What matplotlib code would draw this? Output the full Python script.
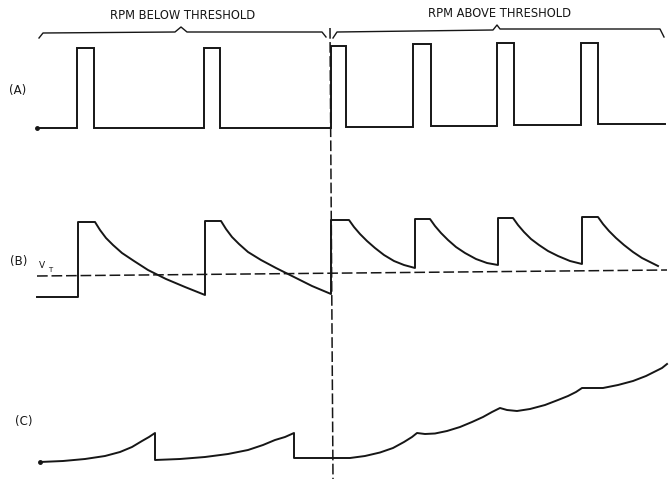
import matplotlib
matplotlib.use("Agg")
import matplotlib.pyplot as plt

# Waveform breakpoints (x = time, y = level, screen units)

# (A) input pulses
a_t = [37, 77, 77, 94, 94, 204, 204, 220, 220, 331, 331, 346, 346,
       413, 413, 431, 431, 497, 497, 514, 514, 581, 581, 598, 598, 665]
a_v = [128, 128, 48, 48, 128, 128, 48, 48, 128, 128, 46, 46, 127,
       127, 44, 44, 126, 126, 43, 43, 125, 125, 43, 43, 124, 124]

# (B) one-shot / RC decay waveform
b_t = [37, 78, 78, 95, 100, 106, 113, 122, 134, 148, 166, 185, 205,
       205, 221, 226, 232, 239, 248, 261, 276, 294, 312, 331,
       331, 349, 354, 360, 367, 375, 384, 394, 404, 415,
       415, 430, 435, 441, 448, 456, 465, 476, 487, 498,
       498, 513, 518, 524, 531, 539, 548, 558, 570, 582,
       582, 598, 603, 609, 616, 624, 633, 642, 650, 658]
b_v = [297, 297, 222, 222, 230, 238, 245, 253, 261, 270, 279, 287, 295,
       221, 221, 229, 237, 244, 252, 260, 268, 277, 286, 294,
       220, 220, 227, 234, 241, 248, 255, 261, 265, 268,
       219, 219, 226, 233, 240, 247, 253, 259, 263, 265,
       218, 218, 225, 232, 239, 245, 251, 256, 261, 264,
       217, 217, 224, 231, 238, 245, 252, 258, 262, 266]

# threshold V_T
vt_t = [37, 667]
vt_v = [276, 270]

# (C) integrator output
c_t = [40, 63, 85, 105, 120, 132, 142, 149, 155,
       155, 180, 205, 228, 248, 263, 275, 285, 294,
       294, 333, 350, 365, 380, 393, 404, 412, 417,
       425, 435, 447, 460, 472, 483, 492, 500,
       507, 517, 530, 545, 558, 568, 576, 582,
       590, 603, 618, 633, 646, 656, 662, 667]
c_v = [462, 461, 459, 456, 452, 447, 441, 437, 433,
       460, 459, 457, 454, 450, 445, 440, 437, 433,
       458, 458, 458, 456, 452.5, 448, 442, 437, 433,
       434, 433.5, 431, 427, 422, 417, 412, 408,
       410, 411, 409, 405, 400, 396, 392, 388,
       388, 388, 385, 381, 376, 371, 368, 364]

# boundary between the two regimes
split_t = [330, 333]
split_v = [28, 479]

# braces over each regime
brace1_t = [39, 43, 175, 181, 187, 322, 326]
brace1_v = [38, 33, 32, 27, 32, 32, 37]
brace2_t = [333, 337, 493, 497, 500, 660, 664]
brace2_v = [38, 32, 30, 25, 29, 29, 37]

regime_labels = ["RPM BELOW THRESHOLD", "RPM ABOVE THRESHOLD"]
trace_labels = ["(A)", "(B)", "(C)"]

INK = "#161616"

fig = plt.figure(figsize=(6.71, 4.79), dpi=100)
ax = fig.add_axes([0, 0, 1, 1])
ax.set_xlim(0, 671)
ax.set_ylim(479, 0)
ax.axis("off")

lw = 1.4
ax.plot(a_t, a_v, color=INK, lw=lw, solid_joinstyle="miter")
ax.plot(b_t, b_v, color=INK, lw=lw, solid_joinstyle="round")
ax.plot(c_t, c_v, color=INK, lw=lw, solid_joinstyle="round")
ax.plot(vt_t, vt_v, color=INK, lw=1.1, linestyle=(0, (7, 2.5)))
ax.plot(split_t, split_v, color=INK, lw=1.1, linestyle=(0, (7, 2.2)))

ax.plot(brace1_t, brace1_v, color=INK, lw=1.0)
ax.plot(brace2_t, brace2_v, color=INK, lw=1.0)

# start dots
ax.plot([a_t[0], c_t[0]], [a_v[0], c_v[0]], "o", color=INK, ms=2.5)

txt = dict(color=INK, fontsize=8.3, family="DejaVu Sans", va="center", ha="center")
ax.text(183, 15, regime_labels[0], **txt)
ax.text(500, 13, regime_labels[1], **txt)

lab = dict(color=INK, fontsize=8.5, family="DejaVu Sans", va="center", ha="left")
ax.text(9, 90, trace_labels[0], **lab)
ax.text(10, 262, trace_labels[1], **lab)
ax.text(15, 422, trace_labels[2], **lab)
ax.text(39, 266, "V", color=INK, fontsize=6.5, va="center", ha="left")
ax.text(48, 270, "T", color=INK, fontsize=5, va="center", ha="left")

fig.savefig("out.png", dpi=100, facecolor="white")
